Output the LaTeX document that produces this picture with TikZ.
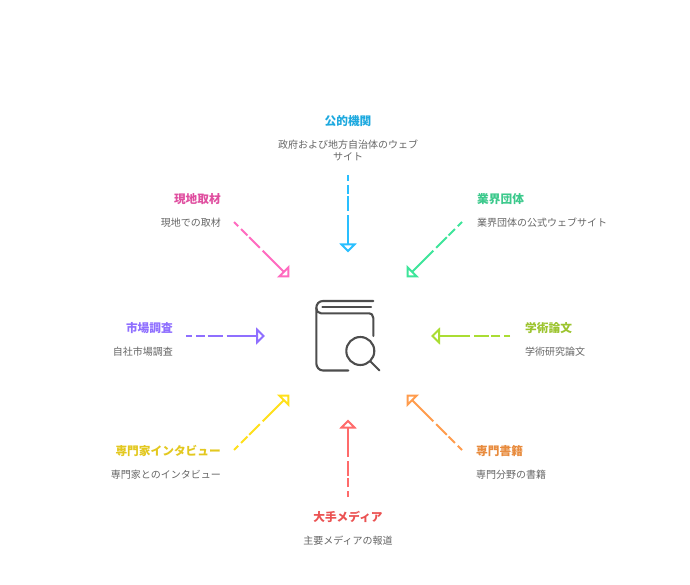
\documentclass[tikz,border=0pt]{standalone}
\usepackage{fontspec}
\setmainfont{Noto Sans CJK JP}
\usetikzlibrary{arrows.meta}
\definecolor{cA}{HTML}{29BFFF}\definecolor{tA}{HTML}{1DA9DF}
\definecolor{cB}{HTML}{3DE59A}\definecolor{tB}{HTML}{3CC98C}
\definecolor{cC}{HTML}{AADD33}\definecolor{tC}{HTML}{9CC42E}
\definecolor{cD}{HTML}{FF9C4D}\definecolor{tD}{HTML}{E88B3D}
\definecolor{cE}{HTML}{FF6B6B}\definecolor{tE}{HTML}{EB5252}
\definecolor{cF}{HTML}{FFE01A}\definecolor{tF}{HTML}{E3C81F}
\definecolor{cG}{HTML}{8F6FFF}\definecolor{tG}{HTML}{8F6FFF}
\definecolor{cH}{HTML}{FF6BC0}\definecolor{tH}{HTML}{E04FA0}
\definecolor{ink}{HTML}{666666}
\definecolor{icon}{HTML}{4D4D4D}
\tikzset{
  x=1pt,y=-1pt,
  ttl/.style={font=\fontsize{11.7}{13}\selectfont\bfseries,inner sep=0pt},
  dsc/.style={font=\fontsize{10}{12}\selectfont,text=ink,inner sep=0pt},
  link/.style={line width=2pt,dash pattern=on 6pt off 4pt on 9pt off 2.5pt on 15pt off 4pt on 70pt off 200pt,
    -{Triangle[open,length=9pt,width=17pt,line width=2pt]}},
  bookline/.style={draw=icon,line width=2.1pt,line cap=round,line join=round}
}
\begin{document}
\begin{tikzpicture}
\useasboundingbox (0,0) rectangle (690,585);
\fill[white] (0,0) rectangle (690,585);
% labels
\node[ttl,text=tA] (t1) at (348,121) {公的機関};
\node[dsc,align=center] (d1) at (348,150) {政府および地方自治体のウェブ\\サイト};
\node[ttl,text=tB,anchor=west] (t2) at (477,199) {業界団体};
\node[dsc,anchor=west] (d2) at (477,222.5) {業界団体の公式ウェブサイト};
\node[ttl,text=tC,anchor=west] (t3) at (525,328) {学術論文};
\node[dsc,anchor=west] (d3) at (525,351.5) {学術研究論文};
\node[ttl,text=tD,anchor=west] (t4) at (476,451) {専門書籍};
\node[dsc,anchor=west] (d4) at (476,474.5) {専門分野の書籍};
\node[ttl,text=tE] (t5) at (348,517) {大手メディア};
\node[dsc] (d5) at (348,540.5) {主要メディアの報道};
\node[ttl,text=tF,anchor=east] (t6) at (221,451) {専門家インタビュー};
\node[dsc,anchor=east] (d6) at (221,474.5) {専門家とのインタビュー};
\node[ttl,text=tG,anchor=east] (t7) at (173,328) {市場調査};
\node[dsc,anchor=east] (d7) at (173,351.5) {自社市場調査};
\node[ttl,text=tH,anchor=east] (t8) at (221,199) {現地取材};
\node[dsc,anchor=east] (d8) at (221,222.5) {現地での取材};
% connector ends
\coordinate (s1) at (348,175); \coordinate (e1) at (348,252.5);
\coordinate (s2) at (462,222); \coordinate (e2) at (406.5,277.5);
\coordinate (s3) at (510,336); \coordinate (e3) at (431,336);
\coordinate (s4) at (462,450); \coordinate (e4) at (406.5,394.5);
\coordinate (s5) at (348,497); \coordinate (e5) at (348,419.5);
\coordinate (s6) at (234,450); \coordinate (e6) at (289.5,394.5);
\coordinate (s7) at (186,336); \coordinate (e7) at (265,336);
\coordinate (s8) at (234,222); \coordinate (e8) at (289.5,277.5);
\draw[link,cA] (s1) -- (e1);
\draw[link,cB] (s2) -- (e2);
\draw[link,cC] (s3) -- (e3);
\draw[link,cD] (s4) -- (e4);
\draw[link,cE] (s5) -- (e5);
\draw[link,cF] (s6) -- (e6);
\draw[link,cG] (s7) -- (e7);
\draw[link,cH] (s8) -- (e8);
% book icon
\draw[bookline] (373.3,301) -- (323,301) .. controls (319,301) and (316.3,304) .. (316.3,308) -- (316.3,363) .. controls (316.3,367) and (319,370.5) .. (323,370.5) -- (348.3,370.5);
\draw[bookline] (322.3,307.3) -- (371,307.3);
\draw[bookline] (316.3,308) .. controls (316.3,311) and (318,313.3) .. (321,313.3) -- (368,313.3) .. controls (371.5,313.3) and (373.3,315) .. (373.3,318) -- (373.3,336);
\draw[bookline] (360.3,351) circle (14);
\draw[bookline] (370.3,361.3) -- (379.5,370.5);
\end{tikzpicture}
\end{document}
